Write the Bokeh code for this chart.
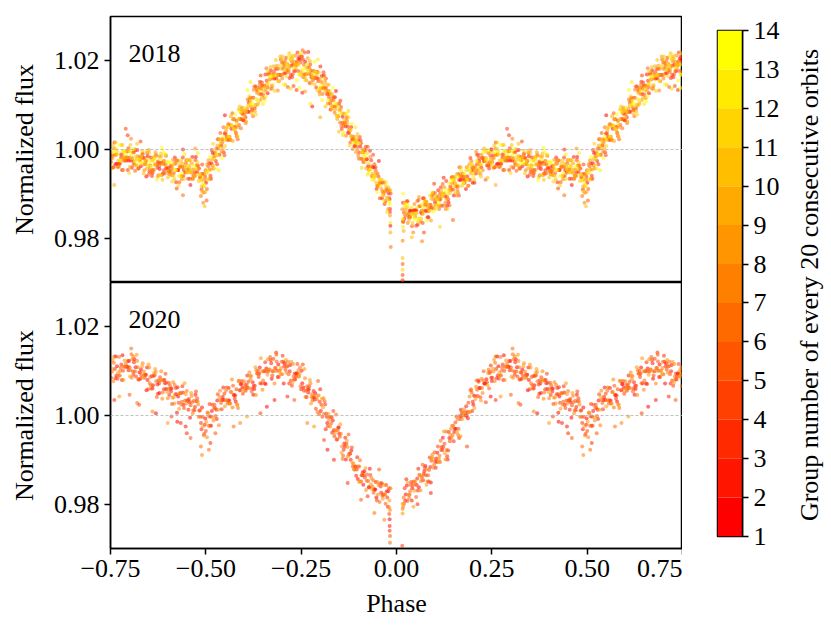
import numpy as np
from bokeh.plotting import figure
from bokeh.layouts import row, column
from bokeh.models import (Span, FixedTicker, CustomJSTickFormatter, Range1d,
                          ColumnDataSource, Label)
from bokeh.embed import file_html
from bokeh.resources import INLINE

# ---------------- data (one folded period, phases -0.50 ... 0.49) ----------------
PHASE_START = -0.50
PHASE_STEP = 0.01

CENTER_2018 = [
    0.9932, 0.9955, 0.9978, 0.9995, 1.0009, 1.0022, 1.0036, 1.0047, 1.0058, 1.0069,
    1.0080, 1.0092, 1.0103, 1.0114, 1.0125, 1.0137, 1.0148, 1.0158, 1.0167, 1.0175,
    1.0182, 1.0186, 1.0189, 1.0191, 1.0191, 1.0189, 1.0184, 1.0178, 1.0170, 1.0161,
    1.0152, 1.0139, 1.0125, 1.0111, 1.0097, 1.0082, 1.0067, 1.0052, 1.0037, 1.0022,
    1.0007, 0.9993, 0.9978, 0.9962, 0.9946, 0.9932, 0.9918, 0.9905, 0.9880, None,
    None, None, 0.9858, 0.9855, 0.9855, 0.9856, 0.9858, 0.9862, 0.9868, 0.9875,
    0.9881, 0.9887, 0.9894, 0.9901, 0.9909, 0.9917, 0.9924, 0.9932, 0.9939, 0.9946,
    0.9953, 0.9960, 0.9967, 0.9974, 0.9978, 0.9979, 0.9981, 0.9982, 0.9982, 0.9982,
    0.9982, 0.9980, 0.9978, 0.9976, 0.9974, 0.9971, 0.9968, 0.9966, 0.9963, 0.9960,
    0.9958, 0.9956, 0.9954, 0.9954, 0.9954, 0.9955, 0.9955, 0.9955, 0.9950, 0.9938,
]

CENTER_2020 = [
    0.9972, 0.9998, 1.0010, 1.0020, 1.0028, 1.0035, 1.0041, 1.0046, 1.0052, 1.0057,
    1.0063, 1.0069, 1.0075, 1.0081, 1.0087, 1.0093, 1.0099, 1.0104, 1.0107, 1.0108,
    1.0107, 1.0104, 1.0100, 1.0095, 1.0088, 1.0080, 1.0070, 1.0059, 1.0048, 1.0036,
    1.0024, 1.0011, 0.9997, 0.9982, 0.9967, 0.9952, 0.9937, 0.9922, 0.9907, 0.9892,
    0.9878, 0.9865, 0.9853, 0.9845, 0.9840, 0.9836, 0.9833, 0.9822, 0.9808, None,
    None, None, 0.9815, 0.9828, 0.9836, 0.9844, 0.9852, 0.9861, 0.9872, 0.9884,
    0.9896, 0.9909, 0.9922, 0.9936, 0.9949, 0.9963, 0.9977, 0.9992, 1.0007, 1.0022,
    1.0038, 1.0051, 1.0062, 1.0072, 1.0082, 1.0092, 1.0098, 1.0104, 1.0108, 1.0110,
    1.0109, 1.0106, 1.0102, 1.0097, 1.0092, 1.0087, 1.0082, 1.0077, 1.0072, 1.0066,
    1.0060, 1.0054, 1.0048, 1.0043, 1.0038, 1.0034, 1.0030, 1.0026, 1.0018, 0.9990,
]

# scatter of the individual orbits about the mean curve, in units of SCATTER_UNIT
SCATTER_UNIT = 0.0007
SCATTER_A = [2, -1, 3, 0, -3, 1, -2, 4, -1, 0, 2, -4, 1, 3, -2, 0, -1, 2, -3, 1,
             4, -2, 0, 1, -1, 3, -3, 2, 0, -2, 1, -4, 2, 0, 3, -1, -2, 1, 0, -3,
             2, 4, -1, 0, -2, 3, 1, -1, -3, 0, 2, -2, 1, 3, -1, 0, -4, 2, 1, -2,
             3, 0, -1, 2, -3, 1, 0, 4, -2, -1, 2, 0, -3, 1, 3, -2, 0, 1, -1, 2,
             -4, 0, 3, -1, 1, -2, 2, 0, -3, 1, 4, -1, -2, 0, 3, -1, 1, -3, 2, 0]
SCATTER_B = [-2, 1, 0, -3, 2, 4, -1, 1, -2, 3, 0, -1, 2, -2, 1, -3, 3, 0, -1, 2,
             -2, 1, 3, -4, 0, 2, -1, 1, -3, 0, 3, -2, 1, -1, 0, 2, -3, 4, 1, -1,
             0, -2, 3, 1, -1, 2, -4, 0, 1, -3, 2, 0, -2, 4, -1, 1, -3, 0, 2, -1,
             1, -2, 3, 0, -4, 2, -1, 1, 0, -2, 3, -1, 2, -3, 0, 1, 4, -2, -1, 0,
             2, -3, 1, 0, -1, 3, -2, 2, 1, -4, 0, 2, -1, 3, -2, 0, 1, -3, 2, 1]
SCATTER_C = [0, 3, -2, 1, -1, -4, 2, 0, 3, -2, 1, -1, 0, 4, -3, 2, -2, 1, 0, -1,
             3, -1, -2, 2, 0, -3, 1, 4, -1, 2, -2, 0, 3, -3, 1, -1, 2, 0, -4, 1,
             -1, 3, 0, -2, 2, -1, 1, -3, 4, 0, -1, 2, -3, 0, 1, 3, -2, -1, 2, 0,
             -3, 1, 2, -1, 0, 3, -4, 1, -2, 2, 0, -1, 1, 3, -2, 0, -3, 2, 1, -1,
             3, 0, -2, 1, -4, 2, -1, 0, 3, -2, 1, -1, 2, 0, -3, 1, 3, -2, 0, -1]
SCATTER_D = [1, -3, 2, -1, 4, 0, -2, 1, -1, 3, -2, 0, 1, -3, 2, 1, -4, 0, 3, -1,
             0, 2, -1, -3, 1, 4, -2, 0, -1, 2, -3, 1, 0, 2, -2, 3, -1, -3, 1, 0,
             4, -2, 1, -1, 0, -3, 2, 3, -2, 1, 0, -1, -3, 2, 1, -2, 4, 0, -1, 3,
             -2, 1, 0, -3, 2, -1, 3, 0, 1, -4, 2, -2, 0, 1, -1, 3, -3, 1, 0, 2,
             -1, 3, -2, 0, 1, -1, -3, 4, 0, -2, 2, 1, -3, 0, -1, 2, 0, -2, 3, -1]
SCATTER_E = [-4, 2, 5, -1, 0, -5, 3, 1, -3, 4, -2, 6, -1, -4, 2, 0, 5, -3, 1, -6,
             3, -2, 4, 0, -5, 1, -3, 6, -1, 2, -4, 5, 0, -2, 3, -6, 1, 4, -3, 0,
             2, -5, 3, -1, 6, -2, 0, -4, 5, 1, -3, 2, -6, 4, 0, -1, 5, -4, 2, -2,
             6, 0, -3, 1, -5, 3, -1, 4, -2, -4, 1, 5, -2, 0, -6, 3, 2, -3, 4, -1,
             -5, 2, 0, 6, -3, 1, -4, 3, -1, 5, 0, -2, 4, -5, 1, 3, -3, 0, 6, -4]
SCATTER_F = [3, 0, -2, -4, 1, 2, -1, 5, -3, 0, -1, 3, 2, -2, 0, -5, 1, 4, -1, -3,
             2, 0, -4, 3, 1, -2, 5, -1, 0, -3, 1, 4, -2, 0, -1, 3, -5, 2, 1, -2,
             -3, 0, 4, -1, 2, -4, 1, 0, 3, -2, 5, -1, 0, -3, 2, 1, -2, 4, -4, 0,
             -1, 3, 1, -5, 0, 2, -2, 3, -1, 1, -4, 2, 0, 4, -2, -1, 3, -3, 1, 0,
             2, -1, 5, -2, 0, -4, 1, 3, -3, 2, -1, 0, 3, -2, 4, -1, -5, 1, 2, -3]
SCATTER_G = [-1, 4, -3, 2, 0, -2, 3, -4, 1, 0, 2, -1, -3, 4, 1, -2, 0, 3, -5, 1,
             -2, 3, 0, -1, 4, -3, 2, 0, -2, 1, 5, -1, -3, 2, 0, 1, -4, 3, -1, -2,
             1, 0, -3, 5, -2, 2, -1, 0, 4, -3, 0, 1, -2, 3, -4, 0, 2, -1, 1, -5,
             3, -2, 0, 4, -1, -3, 2, 1, 0, -2, -1, 4, -3, 0, 2, -2, 5, -1, -4, 1,
             0, -2, 3, 1, -1, 4, -3, 0, 2, -1, -3, 1, 0, -4, 2, 3, -1, -2, 1, 4]
SCATTER_H = [2, -3, 1, 4, -2, 0, -1, 3, -4, 2, 0, 1, -2, -5, 3, 1, -1, 2, 0, -3,
             4, -1, 2, -2, 0, 3, -4, 1, -1, 0, -2, 3, 1, -3, 5, 0, -2, 1, 2, -1,
             -4, 1, 0, 3, -1, -2, 2, -3, 0, 4, 1, -2, 3, -1, 0, -4, 2, 1, -3, 2,
             0, -1, 4, -2, 1, 0, -3, 2, -1, 3, -2, 1, -4, 0, 3, -1, 1, -2, 4, 0,
             -3, 2, 1, -1, 0, 3, -2, -5, 1, 2, 0, -4, 2, 1, -2, 0, 3, -1, -3, 1]
SCATTER_I = [3, -2, 0, 1, -4, 2, -1, 3, 0, -3, 1, 2, -2, 0, 4, -1, -3, 1, 2, -1,
             0, -3, 2, 1, -2, 3, 0, -4, 1, 2, -1, 0, 3, -2, 1, -3, 2, 0, -1, 4,
             -2, 1, 0, -1, 3, -2, -4, 2, 1, 0, 3, -1, 2, 0, -3, 1, -2, 4, 0, -1,
             2, -3, 1, -1, 0, 2, 3, -2, -4, 1, 0, 2, -1, 3, -2, 0, 1, -3, 2, -1,
             4, -2, 0, 1, -1, -3, 2, 0, 3, -2, -1, 1, -4, 2, 0, 3, -1, -2, 1, 0]
SCATTER_J = [-3, 0, 2, -1, 1, 3, -2, 0, -4, 2, 1, -1, 0, 3, -2, 1, 4, -3, 0, -1,
             2, 1, -3, 0, 2, -1, -2, 3, 1, -4, 0, 2, -1, 1, -3, 4, 0, -2, 3, -1,
             1, -3, 2, 0, -1, 1, -2, 3, -3, 2, 0, 4, -1, -2, 1, 0, -3, 2, -1, 3,
             -2, 0, 1, -4, 3, 1, -1, 0, 2, -2, 1, -1, 3, 0, -3, 2, -2, 4, -1, 0,
             -1, 3, -3, 2, 0, -2, 1, -1, 4, 1, 2, -2, 0, 1, -3, 0, 2, 3, -1, -2]
SCATTER_K = [5, -3, 1, -6, 2, 4, -2, 0, -5, 3, -1, 4, -4, 2, 6, -3, 0, -2, 5, -1,
             -5, 1, 3, -2, 0, 5, -4, 2, -1, 6, 2, -6, 0, 4, -3, 1, -1, 5, -2, -4,
             3, 0, -5, 2, -1, 6, -3, 1, 4, -2, -4, 5, 1, -1, -6, 2, 0, 3, -3, 4,
             1, -2, 6, -5, 0, 3, -4, 2, -1, 5, -3, 4, 0, -6, 2, 1, 5, -2, -4, 0,
             6, -1, -3, 3, -5, 0, 2, -4, 1, 4, -2, 3, -6, 1, 5, -3, 0, 4, -1, -5]
SCATTER_L = [0, 2, -3, 4, -1, 1, -2, 3, -1, 0, -3, 1, 2, -2, 0, -4, 3, 1, -1, 2,
             1, -1, 0, 3, -3, 2, -2, 0, 4, -1, -2, 3, 1, 0, -4, 2, -1, 3, -2, 1,
             0, -1, 4, -3, 2, 0, 1, -2, 3, -4, 2, -3, 0, 1, -1, 4, -2, 0, 1, 3,
             -1, 2, -3, 0, 4, -2, 1, -1, 3, 0, -4, 0, 2, 1, -1, -3, 3, -2, 0, 2,
             1, -4, 0, 2, 3, -1, -2, 1, -3, 4, -1, 0, 3, -2, 1, -1, 4, 0, -2, -3]

LAYERS_2018 = [SCATTER_A, SCATTER_B, SCATTER_C, SCATTER_D, SCATTER_E, SCATTER_F,
               SCATTER_G, SCATTER_H, SCATTER_I, SCATTER_J, SCATTER_K, SCATTER_L]
LAYERS_2020 = [SCATTER_B, SCATTER_D, SCATTER_F, SCATTER_G, SCATTER_H,
               SCATTER_J, SCATTER_K]

GROUPS_2018 = [7, 12, 3, 10, 1, 13, 5, 9, 2, 11, 6, 8, 4]
GROUPS_2020 = [3, 7, 1, 5, 8, 2, 6, 4]

# individual points off the main band (outliers, eclipse columns)
EXTRA_2018_PHASE = [-0.300, -0.292, -0.285, -0.278, -0.270, -0.262, -0.255, -0.247,
                    -0.240, -0.226, -0.221, -0.200,
                    0.487, 0.493, -0.503, -0.498, 0.490,
                    0.290, 0.295, 0.385, 0.440, 0.472, -0.383, -0.450,
                    0.260, 0.440, 0.067, 0.040, 0.148, 0.114, 0.072,
                    -0.019, -0.018, -0.017, -0.017, -0.016, -0.016, -0.016, -0.015,
                    0.016, 0.016, 0.016, 0.016, 0.016, 0.016,
                    0.017, 0.017, 0.017, 0.017]
EXTRA_2018_FLUX = [1.0160, 1.0146, 1.0141, 1.0137, 1.0143, 1.0134, 1.0139, 1.0128,
                   1.0131, 1.0103, 1.0097, 1.0073,
                   0.9895, 0.9880, 0.9872, 0.9885, 0.9905,
                   1.0047, 1.0032, 1.0004, 1.0000, 1.0002, 1.0152, 1.0077,
                   0.9920, 0.9897, 0.9793, 0.9802, 0.9841, 0.9826, 0.9813,
                   0.9890, 0.9877, 0.9866, 0.9851, 0.9835, 0.9828, 0.9813, 0.9780,
                   0.9794, 0.9755, 0.9742, 0.9729, 0.9717, 0.9705,
                   0.9900, 0.9880, 0.9840, 0.9825]

EXTRA_2020_PHASE = [0.260, 0.300, 0.320, 0.360, 0.400, 0.410, 0.425, 0.434, 0.450,
                    0.460, 0.487, 0.490, 0.273, 0.325, 0.369, 0.447,
                    -0.488, -0.475, -0.427, -0.410, -0.392, -0.357, -0.340, -0.320,
                    -0.286, -0.268, -0.492,
                    -0.234, -0.216, -0.190, -0.181, -0.164, -0.128, -0.093, -0.058,
                    -0.032, 0.168, 0.185, 0.247, 0.090, 0.055,
                    -0.315, 0.305, 0.310,
                    -0.019, -0.019, -0.018, -0.018, -0.018, -0.017, -0.017,
                    0.016, 0.016, 0.015]
EXTRA_2020_FLUX = [1.0035, 1.0047, 1.0028, 1.0009, 0.9983, 0.9998, 0.9986, 0.9983, 0.9960,
                   0.9949, 0.9930, 0.9911, 1.0043, 1.0024, 1.0005, 0.9975,
                   0.9938, 0.9960, 0.9975, 0.9983, 0.9998, 1.0005, 1.0020, 1.0035,
                   1.0043, 1.0035, 0.9923,
                   0.9983, 0.9975, 0.9945, 0.9923, 0.9900, 0.9848, 0.9810, 0.9780,
                   0.9765, 0.9953, 0.9930, 1.0043, 0.9825, 0.9800,
                   1.0137, 1.0138, 1.0133,
                   0.9793, 0.9778, 0.9766, 0.9751, 0.9740, 0.9728, 0.9713,
                   0.9789, 0.9779, 0.9706]

X_TICKS = [-0.75, -0.5, -0.25, 0.0, 0.25, 0.5, 0.75]
Y_TICKS = [0.98, 1.00, 1.02]
CBAR_TICKS = list(range(1, 15))
PANEL_LABELS = ["2018", "2020"]
CBAR_LABEL = "Group number of every 20 consecutive orbits"

# discrete "autumn" colour map, one colour per band of the colour bar
AUTUMN = ["#%02x%02x00" % (255, int(round(255 * i / 12))) for i in range(13)]

FONT = "Liberation Serif"
FS = "26px"


def build(center, layers, groups, extra_phase, extra_flux):
    center = np.array(center, dtype=float)
    n = len(center)
    grid = PHASE_START + PHASE_STEP * np.arange(n)
    nl = len(layers)
    ph, fl, gr = [], [], []
    for k, lay in enumerate(layers):
        shift = (k - (nl - 1) / 2.0) * PHASE_STEP / nl
        for i in range(min(n, len(lay))):
            if np.isnan(center[i]):
                continue
            ph.append(grid[i] + shift)
            fl.append(center[i] + lay[i] * SCATTER_UNIT)
            gr.append(groups[(i + 5 * k) % len(groups)])
    for j, (p, f) in enumerate(zip(extra_phase, extra_flux)):
        ph.append(p)
        fl.append(f)
        gr.append(groups[(3 * j) % len(groups)])
    # repeat the folded period so the plot spans 1.5 cycles
    P, F, G = list(ph), list(fl), list(gr)
    for p, f, g in zip(ph, fl, gr):
        if p < -0.25:
            P.append(p + 1.0); F.append(f); G.append(g)
        if p > 0.25:
            P.append(p - 1.0); F.append(f); G.append(g)
    order = np.argsort(np.array(G), kind="stable")
    P = np.array(P)[order]
    F = np.array(F)[order]
    G = np.array(G)[order]
    colors = [AUTUMN[min(g, 13) - 1] for g in G]
    return ColumnDataSource(dict(phase=P, flux=F, color=colors))


minus_fmt = CustomJSTickFormatter(
    code="return (tick < -1e-9 ? '\\u2212' : '') + Math.abs(tick).toFixed(2);")
y_fmt = CustomJSTickFormatter(code="return tick.toFixed(2);")


def style_axes(p):
    p.outline_line_color = "black"
    p.outline_line_width = 1.5
    p.xgrid.visible = False
    p.ygrid.visible = False
    p.background_fill_color = "white"
    p.border_fill_color = "white"
    for ax in p.axis:
        ax.axis_line_width = 1.5
        ax.axis_line_color = "black"
        ax.major_tick_line_width = 1.5
        ax.major_tick_line_color = "black"
        ax.major_tick_out = 6
        ax.major_tick_in = 0
        ax.minor_tick_line_color = None
        ax.major_label_text_font = FONT
        ax.major_label_text_font_size = FS
        ax.major_label_text_color = "black"
        ax.axis_label_text_font = FONT
        ax.axis_label_text_font_size = FS
        ax.axis_label_text_font_style = "normal"
        ax.axis_label_text_color = "black"


x_range = Range1d(-0.75, 0.75)

p1 = figure(width=682, height=282, x_range=x_range, y_range=Range1d(0.97, 1.03),
            output_backend="svg", toolbar_location=None, x_axis_location=None,
            min_border_left=110, min_border_right=0, min_border_top=16,
            min_border_bottom=0)
p2 = figure(width=682, height=350, x_range=x_range, y_range=Range1d(0.97, 1.03),
            output_backend="svg", toolbar_location=None,
            min_border_left=110, min_border_right=0, min_border_top=0,
            min_border_bottom=84)

sources = [
    build(CENTER_2018, LAYERS_2018, GROUPS_2018, EXTRA_2018_PHASE, EXTRA_2018_FLUX),
    build(CENTER_2020, LAYERS_2020, GROUPS_2020, EXTRA_2020_PHASE, EXTRA_2020_FLUX),
]

for p, src, lab in zip([p1, p2], sources, PANEL_LABELS):
    p.add_layout(Span(location=1.0, dimension="width", line_color="#b0b0b0",
                      line_width=0.8, line_dash="3 2"))
    p.scatter(x="phase", y="flux", source=src, size=4, fill_color="color",
              fill_alpha=0.55, line_color=None, marker="circle")
    p.add_layout(Label(x=-0.703, y=1.0217, text=lab, text_font=FONT,
                       text_font_size=FS, text_baseline="middle",
                       text_align="left", text_color="black"))
    style_axes(p)
    p.yaxis.ticker = FixedTicker(ticks=Y_TICKS)
    p.yaxis.formatter = y_fmt
    p.yaxis.axis_label = "Normalized flux"
    p.yaxis.axis_label_standoff = 12

p2.xaxis.ticker = FixedTicker(ticks=X_TICKS)
p2.xaxis.formatter = minus_fmt
p2.xaxis.axis_label = "Phase"
p2.xaxis.axis_label_standoff = 9

# colour bar
p3 = figure(width=110, height=560, x_range=Range1d(0, 1),
            y_range=Range1d(CBAR_TICKS[0], CBAR_TICKS[-1]),
            output_backend="svg", toolbar_location=None,
            x_axis_location=None, y_axis_location="right",
            min_border_left=35, min_border_right=50, min_border_top=30,
            min_border_bottom=24)
p3.quad(left=0, right=1, bottom=CBAR_TICKS[:-1], top=CBAR_TICKS[1:],
        fill_color=AUTUMN, line_color=None)
style_axes(p3)
p3.yaxis.ticker = FixedTicker(ticks=CBAR_TICKS)

# colour-bar title (reads bottom to top), drawn in its own narrow strip
p4 = figure(width=37, height=560, x_range=Range1d(0, 1), y_range=Range1d(0, 1),
            output_backend="svg", toolbar_location=None,
            x_axis_location=None, y_axis_location=None,
            min_border_left=0, min_border_right=0, min_border_top=0,
            min_border_bottom=0)
p4.outline_line_color = None
p4.xgrid.visible = False
p4.ygrid.visible = False
p4.add_layout(Label(x=0.45, y=0.497, text=CBAR_LABEL, angle=90, angle_units="deg",
                    text_font=FONT, text_font_size=FS, text_align="center",
                    text_baseline="middle", text_color="black"))

layout = row(column(p1, p2), p3, p4)
open("out.html", "w").write(file_html(layout, INLINE))
